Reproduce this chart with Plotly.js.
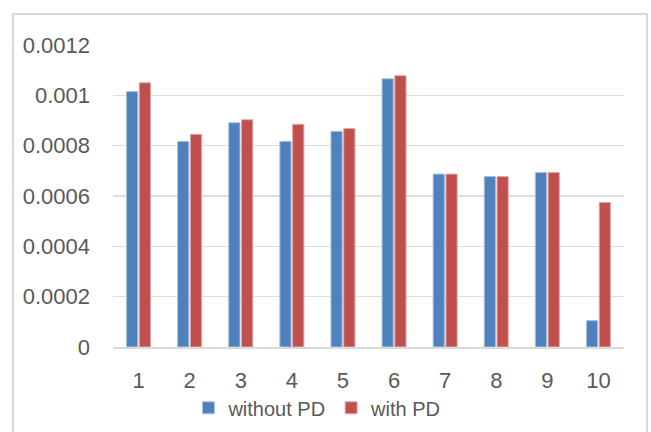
<!DOCTYPE html>
<html>
<head>
<meta charset="utf-8">
<script src="https://cdn.plot.ly/plotly-3.0.1.min.js"></script>
<style>
html,body{margin:0;padding:0;background:#fff;overflow:hidden;}
#frame{position:absolute;left:12px;top:13px;width:636px;height:440px;border:2px solid #d9d9d9;box-sizing:border-box;pointer-events:none;z-index:5;}
#chart{width:651px;height:432px;}
</style>
</head>
<body>
<div id="chart"></div>
<div id="frame"></div>
<script>
const categories = ['1','2','3','4','5','6','7','8','9','10'];
const withoutPD = [0.001015, 0.000817, 0.000891, 0.000817, 0.000857, 0.001066, 0.000687, 0.000677, 0.000693, 0.000105];
const withPD    = [0.001050, 0.000845, 0.000903, 0.000885, 0.000868, 0.001078, 0.000687, 0.000677, 0.000693, 0.000574];
const yTicks = [0, 0.0002, 0.0004, 0.0006, 0.0008, 0.001, 0.0012];
const yTickText = ['0', '0.0002', '0.0004', '0.0006', '0.0008', '0.001', '0.0012'];

const font = {family: '"Liberation Sans", Arial, sans-serif', color: '#595959'};

const data = [
  {type: 'bar', name: 'without PD', x: categories, y: withoutPD,
   marker: {color: '#4F81BD', line: {color: '#a9c0df', width: 1}}},
  {type: 'bar', name: 'with PD', x: categories, y: withPD,
   marker: {color: '#C0504D', line: {color: '#e0a8a6', width: 1}}}
];

const layout = {
  width: 651, height: 432,
  margin: {l: 113, r: 27, t: 45, b: 85, autoexpand: false},
  paper_bgcolor: '#ffffff', plot_bgcolor: '#ffffff',
  barmode: 'group', bargap: 0.5, bargroupgap: 0.12,
  font: Object.assign({size: 22}, font),
  showlegend: true,
  legend: {orientation: 'h', x: 0.40, xanchor: 'center', xref: 'paper',
           yref: 'container', y: 0.056, yanchor: 'middle', bgcolor: 'rgba(0,0,0,0)',
           font: Object.assign({size: 20}, font), itemwidth: 30, traceorder: 'normal',
           tracegroupgap: 0},
  xaxis: {type: 'category', showgrid: false, zeroline: false, showline: true,
          linecolor: '#d9d9d9', linewidth: 2, ticks: '', ticklabelstandoff: 13,
          tickfont: Object.assign({size: 22}, font), automargin: false},
  yaxis: {range: [0, 0.0012], tickvals: yTicks, ticktext: yTickText,
          showgrid: true, gridcolor: '#dedede', gridwidth: 1.5, zeroline: false,
          showline: false, ticks: '', ticklabelstandoff: 22, automargin: false,
          tickfont: Object.assign({size: 22}, font)}
};

Plotly.newPlot('chart', data, layout, {displayModeBar: false, staticPlot: true});
</script>
</body>
</html>
